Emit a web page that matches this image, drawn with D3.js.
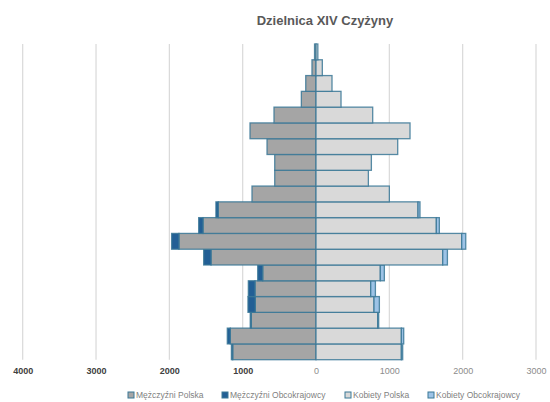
<!DOCTYPE html>
<html>
<head>
<meta charset="utf-8">
<script src="https://cdn.jsdelivr.net/npm/d3@7/dist/d3.min.js"></script>
<style>
  html, body { margin: 0; padding: 0; background: #fff; }
  svg { display: block; font-family: "Liberation Sans", "DejaVu Sans", sans-serif; }
</style>
</head>
<body>
<svg id="chart" width="550" height="402"></svg>
<script>
// Age groups, youngest first
const ageGroups = ["0-4","5-9","10-14","15-19","20-24","25-29","30-34","35-39","40-44","45-49",
                   "50-54","55-59","60-64","65-69","70-74","75-79","80-84","85-89","90-94","95+"];
const menPolish    = [1136,1169,883,828,832,727,1432,1869,1541,1333,873,563,563,668,900,573,200,140,55,20];
const menForeign   = [18,41,14,100,91,68,100,100,59,32,0,0,0,0,0,0,0,0,0,0];
const womenPolish  = [1164,1164,841,791,746,877,1728,1987,1641,1391,1000,714,755,1114,1282,773,341,218,86,25];
const womenForeign = [18,32,14,73,64,55,64,55,41,27,0,0,0,0,0,0,0,0,0,0];
const tickValues = [-4000,-3000,-2000,-1000,0,1000,2000,3000];
const seriesNames = ["Mężczyźni Polska","Mężczyźni Obcokrajowcy","Kobiety Polska","Kobiety Obcokrajowcy"];
const seriesColors = ["#a5a5a5","#225f95","#d9d9d9","#9dc3e6"];
const title = "Dzielnica XIV Czyżyny";

const svg = d3.select("#chart");
const stroke = "#3b7896";

const x = d3.scaleLinear().domain([-4000, 3000]).range([22.7, 536]);
const y = d3.scaleBand().domain(ageGroups.slice().reverse()).range([44, 359.7]).padding(0);

// Gridlines
svg.append("g").selectAll("line").data(tickValues).join("line")
  .attr("x1", d => x(d)).attr("x2", d => x(d))
  .attr("y1", 44).attr("y2", 359.7)
  .attr("stroke", "#d9d9d9").attr("stroke-width", 1.2);

// Bar segments: men to the left (negative), women to the right
const rows = ageGroups.map((g, i) => ({
  g,
  segs: [
    { x0: 0, x1: -menPolish[i], c: 0 },
    { x0: -menPolish[i], x1: -menPolish[i] - menForeign[i], c: 1 },
    { x0: 0, x1: womenPolish[i], c: 2 },
    { x0: womenPolish[i], x1: womenPolish[i] + womenForeign[i], c: 3 }
  ].filter(s => s.x0 !== s.x1)
}));

const bars = svg.append("g");
rows.forEach(r => {
  bars.selectAll(null).data(r.segs).join("rect")
    .attr("x", d => x(Math.min(d.x0, d.x1)))
    .attr("width", d => Math.abs(x(d.x1) - x(d.x0)))
    .attr("y", y(r.g))
    .attr("height", y.bandwidth())
    .attr("fill", d => seriesColors[d.c])
    .attr("stroke", stroke)
    .attr("stroke-opacity", 0.85)
    .attr("stroke-width", 1.3);
});

// Axis labels (absolute values)
const axis = d3.axisBottom(x).tickValues(tickValues).tickSize(0).tickPadding(0)
  .tickFormat(d => String(Math.abs(d)));
const ax = svg.append("g").attr("transform", "translate(0,368)").call(axis);
ax.select(".domain").remove();
ax.selectAll("text")
  .attr("font-size", 9)
  .attr("font-family", "'Liberation Sans', sans-serif")
  .attr("fill", d => d < 0 ? "#404040" : "#8c8c8c")
  .attr("font-weight", d => d < 0 ? "bold" : "normal");

// Title
svg.append("text")
  .attr("x", 325).attr("y", 25)
  .attr("text-anchor", "middle")
  .attr("font-size", 13).attr("font-weight", "bold")
  .attr("fill", "#595959")
  .text(title);

// Legend
const legendX = [128, 222, 345, 428];
const lg = svg.append("g").attr("transform", "translate(0,395)");
seriesNames.forEach((n, i) => {
  lg.append("rect")
    .attr("x", legendX[i]).attr("y", -3)
    .attr("width", 6).attr("height", 6)
    .attr("fill", seriesColors[i])
    .attr("stroke", stroke).attr("stroke-width", 1);
  lg.append("text")
    .attr("x", legendX[i] + 8).attr("y", 3)
    .attr("font-size", 8.5)
    .attr("fill", "#7f7f7f")
    .text(n);
});
</script>
</body>
</html>
